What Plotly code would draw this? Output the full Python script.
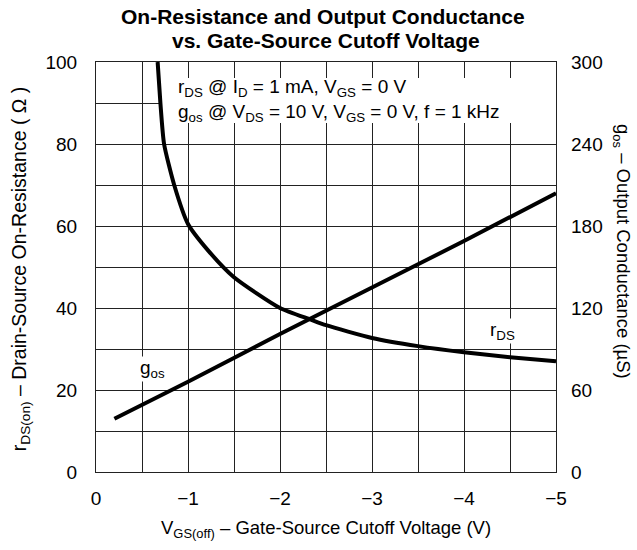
import plotly.graph_objects as go

# ---- data ----
rds_vgs = [-0.67, -0.70, -0.74, -0.85, -1.0, -1.22, -1.5, -2.0, -2.33, -2.5, -3.0, -3.5, -4.0, -4.5, -5.0]
rds_ohm = [100, 90, 80, 70, 60.5, 54, 47.5, 40, 37.2, 35.8, 32.7, 30.7, 29.2, 28.0, 27.0]

gos_vgs = [-0.2, -1.0, -2.0, -3.0, -4.0, -5.0]
gos_us = [39, 66, 101, 135, 169, 204]

x_tickvals = [0, -1, -2, -3, -4, -5]
x_ticktext = ["0", "\u22121", "\u22122", "\u22123", "\u22124", "\u22125"]
y_tickvals = [0, 20, 40, 60, 80, 100]
y_ticktext = ["0", "20", "40", "60", "80", "100"]
y2_tickvals = [0, 60, 120, 180, 240, 300]
y2_ticktext = ["0", "60", "120", "180", "240", "300"]

FONT = "Liberation Sans, Arial, Helvetica, sans-serif"
BLACK = "black"
GRID = "#222"

fig = go.Figure()
fig.add_trace(go.Scatter(x=rds_vgs, y=rds_ohm, mode="lines",
                         line=dict(color=BLACK, width=4, shape="spline", smoothing=0.6),
                         showlegend=False, hoverinfo="skip"))
fig.add_trace(go.Scatter(x=gos_vgs, y=gos_us, mode="lines", yaxis="y2",
                         line=dict(color=BLACK, width=4, shape="spline", smoothing=0.6),
                         showlegend=False, hoverinfo="skip"))

# white box behind the conditions text (hides gridlines, not curves)
fig.add_shape(type="rect", xref="x", yref="y", x0=-0.69, x1=-5, y0=85.1, y1=96.1,
              fillcolor="white", line=dict(width=0), layer="between")

ann = []
ann.append(dict(text="r<sub>DS</sub> @ I<sub>D</sub> = 1 mA, V<sub>GS</sub> = 0 V<br>"
                     "g<sub>os</sub> @ V<sub>DS</sub> = 10 V, V<sub>GS</sub> = 0 V, f = 1 kHz",
                x=-0.87, y=90.5, xref="x", yref="y", xanchor="left", yanchor="middle",
                align="left", showarrow=False,
                font=dict(size=19, color=BLACK, family=FONT)))
ann.append(dict(text="g<sub>os</sub>", x=-0.61, y=25.2, xref="x", yref="y",
                showarrow=False, bgcolor="white", borderpad=0,
                font=dict(size=19, color=BLACK, family=FONT)))
ann.append(dict(text="r<sub>DS</sub>", x=-4.42, y=34.3, xref="x", yref="y",
                showarrow=False, bgcolor="white", borderpad=0,
                font=dict(size=19, color=BLACK, family=FONT)))
# chart title (two lines)
ann.append(dict(text="<b>On-Resistance and Output Conductance</b>",
                x=0.493, y=1.11, xref="paper", yref="paper", yanchor="middle",
                showarrow=False, font=dict(size=21, color=BLACK, family=FONT)))
ann.append(dict(text="<b>vs. Gate-Source Cutoff Voltage</b>",
                x=0.5, y=1.053, xref="paper", yref="paper", yanchor="middle",
                showarrow=False, font=dict(size=21, color=BLACK, family=FONT)))
# axis titles
ann.append(dict(text="V<sub>GS(off)</sub> \u2013 Gate-Source Cutoff Voltage (V)",
                x=0.5, y=-0.138, xref="paper", yref="paper", yanchor="middle",
                showarrow=False, font=dict(size=18.5, color=BLACK, family=FONT)))
ann.append(dict(text="r<sub>DS(on)</sub> \u2013 Drain-Source On-Resistance ( \u03a9 )",
                x=-0.165, y=0.495, xref="paper", yref="paper", textangle=-90,
                xanchor="center", yanchor="middle",
                showarrow=False, font=dict(size=19.5, color=BLACK, family=FONT)))
ann.append(dict(text="g<sub>os</sub> \u2013 Output Conductance (\u00b5S)",
                x=1.143, y=0.537, xref="paper", yref="paper", textangle=90,
                xanchor="center", yanchor="middle",
                showarrow=False, font=dict(size=18.5, color=BLACK, family=FONT)))

fig.update_layout(
    width=637, height=550,
    margin=dict(l=96, r=81, t=62, b=78),
    paper_bgcolor="white", plot_bgcolor="white",
    font=dict(family=FONT, size=19, color=BLACK),
    xaxis=dict(range=[0, -5], tickmode="array", tickvals=x_tickvals, ticktext=x_ticktext,
               showgrid=True, gridcolor=GRID, gridwidth=1.2,
               minor=dict(tickmode="linear", tick0=0, dtick=0.5, showgrid=True,
                          gridcolor=GRID, gridwidth=1.2, ticks=""),
               showline=True, linecolor=GRID, linewidth=1.2, mirror=True,
               ticks="", zeroline=False, ticklabelstandoff=9,
               tickfont=dict(size=19)),
    yaxis=dict(range=[0, 100], tickmode="array", tickvals=y_tickvals, ticktext=y_ticktext,
               showgrid=True, gridcolor=GRID, gridwidth=1.2,
               minor=dict(tickmode="linear", tick0=0, dtick=10, showgrid=True,
                          gridcolor=GRID, gridwidth=1.2, ticks=""),
               showline=True, linecolor=GRID, linewidth=1.2, mirror=True,
               ticks="", zeroline=False, ticklabelstandoff=14,
               tickfont=dict(size=19)),
    yaxis2=dict(range=[0, 300], tickmode="array", tickvals=y2_tickvals, ticktext=y2_ticktext,
                overlaying="y", side="right", showgrid=False, zeroline=False,
                ticks="", showline=False, ticklabelstandoff=14,
                tickfont=dict(size=19)),
    annotations=ann,
)

fig.write_html("out.html", config={"displayModeBar": False},
               post_script="document.body.style.margin='0';document.body.style.overflow='hidden';")
